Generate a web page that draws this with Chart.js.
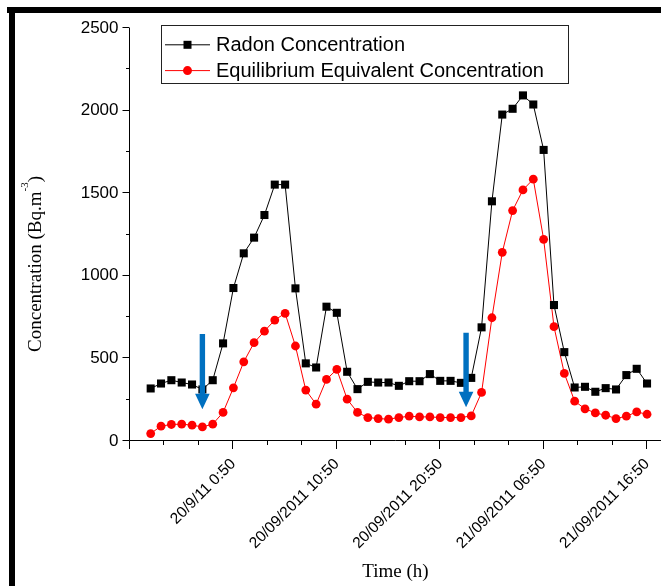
<!DOCTYPE html>
<html>
<head>
<meta charset="utf-8">
<script src="https://cdn.jsdelivr.net/npm/chart.js@4.4.0/dist/chart.umd.min.js"></script>
<style>
  html, body { margin: 0; padding: 0; background: #fff; }
  canvas { display: block; }
</style>
</head>
<body>
<canvas id="chart" width="661" height="586"></canvas>
<script>
// hours since the first sample (19/09/2011 16:50), one sample per hour
const hours = [0, 1, 2, 3, 4, 5, 6, 7, 8, 9, 10, 11, 12, 13, 14, 15, 16, 17, 18, 19, 20, 21, 22, 23, 24,
               25, 26, 27, 28, 29, 30, 31, 32, 33, 34, 35, 36, 37, 38, 39, 40, 41, 42, 43, 44, 45, 46, 47, 48];
const radon = [318, 348, 368, 354, 342, 312, 368, 591, 926, 1136, 1231, 1368, 1552, 1552, 924, 470, 445, 813, 776, 419,
               314, 358, 354, 354, 334, 362, 362, 405, 364, 364, 352, 382, 688, 1451, 1976, 2011, 2092, 2037, 1762, 823,
               538, 324, 328, 298, 320, 312, 399, 437, 348];
const eec = [45, 90, 100, 102, 96, 85, 102, 173, 322, 479, 595, 665, 732, 773, 575, 308, 223, 373, 433, 253,
             173, 142, 136, 132, 142, 150, 146, 146, 142, 142, 142, 152, 294, 746, 1142, 1395, 1520, 1585, 1221, 692,
             409, 241, 195, 170, 156, 136, 150, 176, 162];
const tickHours = [-2, 8, 18, 28, 38, 48];
const tickLabels = ['', '20/9/11 0:50', '20/09/2011 10:50', '20/09/2011 20:50', '21/09/2011 06:50', '21/09/2011 16:50'];
// blue arrows: x in hours, from / to concentration
const arrows = [{ x: 5, from: 648, to: 192 }, { x: 30.5, from: 656, to: 204 }];

const sans = "'Liberation Sans', Arial, sans-serif";
const serif = "'Liberation Serif', 'Times New Roman', serif";

const decor = {
  id: 'decor',
  beforeDraw(chart) {
    const c = chart.ctx;
    c.save();
    c.fillStyle = '#fff';
    c.fillRect(0, 0, chart.width, chart.height);
    c.fillStyle = '#000';
    c.fillRect(7, 7, chart.width - 7, 6);
    c.fillRect(9, 7, 6, chart.height - 7);
    c.restore();
  },
  beforeDatasetsDraw(chart) {
    const c = chart.ctx, a = chart.chartArea;
    const xs = chart.scales.x, ys = chart.scales.y;
    const ax = Math.round(a.left) - 0.5, ay = Math.round(a.bottom) - 0.5;
    c.save();
    c.strokeStyle = '#000';
    c.lineWidth = 1;
    c.beginPath();
    c.moveTo(ax, a.top);
    c.lineTo(ax, ay);
    c.lineTo(a.right, ay);
    // y ticks
    for (let v = 0; v <= 2500; v += 250) {
      const py = Math.round(ys.getPixelForValue(v)) - 0.5;
      const len = v % 500 === 0 ? 7 : 3.5;
      c.moveTo(ax - len, py);
      c.lineTo(ax, py);
    }
    // x ticks, two minor ones between majors
    tickHours.forEach(t => {
      [0, 10 / 3, 20 / 3].forEach((d, k) => {
        const v = t + d;
        if (v > xs.max) return;
        const px = Math.round(xs.getPixelForValue(v)) - 0.5;
        c.moveTo(px, ay);
        c.lineTo(px, ay + (k === 0 ? 8.5 : 4.5));
      });
    });
    c.stroke();
    c.restore();
  },
  afterDatasetsDraw(chart) {
    const c = chart.ctx;
    const xs = chart.scales.x, ys = chart.scales.y;
    c.save();
    c.fillStyle = '#0070c0';
    arrows.forEach(ar => {
      const x = xs.getPixelForValue(ar.x);
      const top = ys.getPixelForValue(ar.from), tip = ys.getPixelForValue(ar.to);
      const headLen = 15.5, headHalf = 7.3, shaftHalf = 2.7;
      c.beginPath();
      c.moveTo(x - shaftHalf, top);
      c.lineTo(x + shaftHalf, top);
      c.lineTo(x + shaftHalf, tip - headLen);
      c.lineTo(x + headHalf, tip - headLen);
      c.lineTo(x, tip);
      c.lineTo(x - headHalf, tip - headLen);
      c.lineTo(x - shaftHalf, tip - headLen);
      c.closePath();
      c.fill();
    });
    c.restore();
  },
  afterDraw(chart) {
    const c = chart.ctx;
    c.save();
    // y axis title with superscript
    c.translate(41, 264);
    c.rotate(-Math.PI / 2);
    c.fillStyle = '#000';
    c.textBaseline = 'alphabetic';
    const main = 'Concentration (Bq.m', sup = '-3', close = ')';
    c.font = '19px ' + serif;
    const w1 = c.measureText(main).width, w3 = c.measureText(close).width;
    c.font = '11px ' + serif;
    const w2 = c.measureText(sup).width;
    let x = -(w1 + w2 + w3) / 2;
    c.font = '19px ' + serif;
    c.fillText(main, x, 0);
    x += w1;
    c.font = '11px ' + serif;
    c.fillText(sup, x, -13);
    x += w2;
    c.font = '19px ' + serif;
    c.fillText(close, x, 0);
    c.restore();

    // legend box
    c.save();
    c.strokeStyle = '#222';
    c.lineWidth = 1;
    c.strokeRect(161.5, 25.5, 407, 58);
    const rowsY = [44.8, 70.6];
    chart.data.datasets.forEach((ds, i) => {
      const y = rowsY[i];
      c.strokeStyle = ds.borderColor;
      c.beginPath();
      c.moveTo(165, y);
      c.lineTo(210, y);
      c.stroke();
      c.fillStyle = ds.pointBackgroundColor;
      if (ds.pointStyle === 'rect') {
        c.fillRect(183.5, y - 4, 8, 8);
      } else {
        c.beginPath();
        c.arc(187.5, y, 4.5, 0, Math.PI * 2);
        c.fill();
      }
      c.fillStyle = '#000';
      c.font = '20px ' + sans;
      c.textBaseline = 'middle';
      c.fillText(ds.label, 216, y + 1);
    });
    c.restore();
  }
};

new Chart(document.getElementById('chart'), {
  type: 'line',
  data: {
    datasets: [
      {
        label: 'Radon Concentration',
        data: hours.map((h, i) => ({ x: h, y: radon[i] })),
        borderColor: '#000',
        borderWidth: 1,
        pointStyle: 'rect',
        pointRadius: 5.7,
        pointBackgroundColor: '#000',
        pointBorderColor: '#000',
        pointBorderWidth: 0
      },
      {
        label: 'Equilibrium Equivalent Concentration',
        data: hours.map((h, i) => ({ x: h, y: eec[i] })),
        borderColor: '#ff0000',
        borderWidth: 1,
        pointStyle: 'circle',
        pointRadius: 4.4,
        pointBackgroundColor: '#ff0000',
        pointBorderColor: '#ff0000',
        pointBorderWidth: 0
      }
    ]
  },
  options: {
    responsive: false,
    animation: false,
    devicePixelRatio: 1,
    layout: { autoPadding: false, padding: { top: 28, left: 0, right: 0, bottom: 0 } },
    plugins: { legend: { display: false }, tooltip: { enabled: false } },
    scales: {
      x: {
        type: 'linear',
        min: -2,
        max: 49.35,
        grid: { display: false, drawTicks: false },
        border: { display: false },
        afterBuildTicks: s => { s.ticks = tickHours.map(v => ({ value: v })); },
        afterFit: s => { s.height = 145; s.paddingLeft = 0; s.paddingRight = 0; },
        ticks: {
          autoSkip: false,
          minRotation: 45,
          maxRotation: 45,
          padding: 14,
          color: '#000',
          font: { family: sans, size: 15.5 },
          callback: (v, i) => tickLabels[i]
        },
        title: {
          display: true,
          text: 'Time (h)',
          color: '#000',
          font: { family: serif, size: 19 },
          padding: { top: 0, bottom: 3 }
        }
      },
      y: {
        min: 0,
        max: 2500,
        grid: { display: false, drawTicks: false },
        border: { display: false },
        afterFit: s => { s.width = 130; s.paddingTop = 0; s.paddingBottom = 0; },
        ticks: {
          stepSize: 500,
          padding: 11.5,
          color: '#000',
          font: { family: sans, size: 17 },
          callback: v => String(v)
        }
      }
    }
  },
  plugins: [decor]
});
</script>
</body>
</html>
